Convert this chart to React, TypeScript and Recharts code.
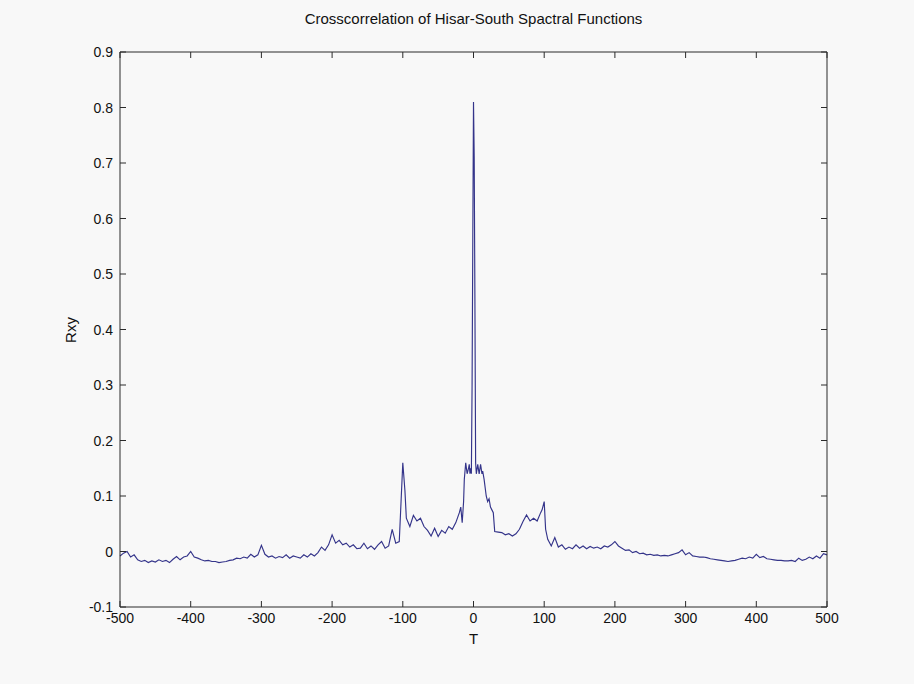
import React from "react";
import { LineChart, Line, XAxis, YAxis } from "recharts";

const lags = [
  -500, -495, -490, -485, -480, -475, -470, -465, -460, -455,
  -450, -445, -440, -435, -430, -425, -420, -415, -410, -405,
  -400, -395, -390, -385, -380, -375, -370, -365, -360, -355,
  -350, -345, -340, -335, -330, -325, -320, -315, -310, -305,
  -300, -295, -290, -285, -280, -275, -270, -265, -260, -255,
  -250, -245, -240, -235, -230, -225, -220, -215, -210, -205,
  -200, -195, -190, -185, -180, -175, -170, -165, -160, -155,
  -150, -145, -140, -135, -130, -125, -120, -115, -110, -105,
  -100, -97, -95, -90, -85, -80, -75, -70, -65, -60,
  -55, -50, -45, -40, -35, -30, -25, -20, -18, -16,
  -14, -13, -11, -9, -7, -6, -5, -4, -3, -2,
  -1, 0, 1, 2, 3, 4, 6, 8, 10, 12,
  13, 15, 18, 20, 22, 24, 26, 28, 30, 35,
  40, 45, 50, 55, 60, 65, 70, 75, 80, 85,
  90, 95, 97, 100, 102, 105,
  110, 115, 120, 125, 130, 135, 140, 145, 150, 155,
  160, 165, 170, 175, 180, 185, 190, 195, 200, 205,
  210, 215, 220, 225, 230, 235, 240, 245, 250, 255,
  260, 265, 270, 275, 280, 285, 290, 295, 300, 305,
  310, 315, 320, 325, 330, 335, 340, 345, 350, 355,
  360, 365, 370, 375, 380, 385, 390, 395, 400, 405,
  410, 415, 420, 425, 430, 435, 440, 445, 450, 455,
  460, 465, 470, 475, 480, 485, 490, 495, 500,
];

const rxy = [
  -0.008, -0.003, 0.0, -0.01, -0.006, -0.015, -0.018, -0.016, -0.02, -0.017,
  -0.019, -0.015, -0.018, -0.016, -0.02, -0.014, -0.009, -0.015, -0.01, -0.008,
  0.0, -0.01, -0.012, -0.015, -0.017, -0.016, -0.018, -0.018, -0.02, -0.019,
  -0.018, -0.016, -0.015, -0.012, -0.013, -0.01, -0.012, -0.005, -0.01, -0.006,
  0.011, -0.005, -0.01, -0.008, -0.012, -0.009, -0.011, -0.006, -0.012, -0.008,
  -0.01, -0.012, -0.006, -0.01, -0.004, -0.008, -0.002, 0.008, 0.002, 0.012,
  0.03, 0.015, 0.02, 0.012, 0.015, 0.008, 0.012, 0.005, 0.006, 0.015,
  0.005, 0.01, 0.004, 0.012, 0.018, 0.006, 0.01, 0.04, 0.015, 0.018,
  0.16, 0.11, 0.06, 0.045, 0.065, 0.055, 0.06, 0.045, 0.038, 0.028,
  0.042, 0.027, 0.038, 0.033, 0.045, 0.04, 0.052, 0.07, 0.08, 0.052,
  0.09, 0.13, 0.16, 0.14, 0.15, 0.157, 0.14, 0.15, 0.14, 0.3,
  0.56, 0.81, 0.71, 0.45, 0.16, 0.14, 0.157, 0.14, 0.157, 0.14,
  0.145, 0.13, 0.1, 0.09, 0.095, 0.08, 0.075, 0.07, 0.036, 0.035,
  0.034, 0.03, 0.032, 0.028, 0.032, 0.04, 0.054, 0.066, 0.055, 0.06,
  0.055, 0.07, 0.075, 0.09, 0.04, 0.022,
  0.01, 0.025, 0.008, 0.012, 0.004, 0.008, 0.005, 0.012, 0.006, 0.01,
  0.005, 0.009, 0.006, 0.008, 0.005, 0.01, 0.008, 0.012, 0.018, 0.01,
  0.006, 0.002, 0.003, -0.002, 0.0, -0.004, -0.003, -0.006, -0.005, -0.007,
  -0.006, -0.008, -0.007, -0.008, -0.006, -0.004, -0.002, 0.003, -0.006, -0.002,
  -0.008, -0.009, -0.01, -0.01, -0.011, -0.013, -0.014, -0.015, -0.016, -0.017,
  -0.018, -0.017, -0.016, -0.014, -0.012, -0.013, -0.01, -0.012, -0.005, -0.011,
  -0.009, -0.013, -0.014, -0.015, -0.016, -0.016, -0.017, -0.017, -0.016, -0.018,
  -0.012, -0.016, -0.014, -0.01, -0.013, -0.008, -0.012, -0.004, -0.006,
];

const xTicks = [-500, -400, -300, -200, -100, 0, 100, 200, 300, 400, 500];
const yTicks = [-0.1, 0, 0.1, 0.2, 0.3, 0.4, 0.5, 0.6, 0.7, 0.8, 0.9];

const title = "Crosscorrelation of Hisar-South Spactral Functions";
const xLabel = "T";
const yLabel = "Rxy";

const data = lags.map((t, i) => ({ t, r: rxy[i] }));

const FONT = "'Liberation Sans', Arial, Helvetica, sans-serif";
const AXIS = "#2a2a2a";
const TICK_LEN = 6;

const BottomTick = (p: any) => {
  const { x, y, payload } = p;
  return (
    <g>
      <line x1={x} x2={x} y1={y} y2={y - TICK_LEN} stroke={AXIS} />
      <text x={x} y={y + 16} textAnchor="middle" fontSize={14} fontFamily={FONT} fill="#111">
        {payload.value}
      </text>
    </g>
  );
};
const TopTick = (p: any) => {
  const { x, y } = p;
  return <line x1={x} x2={x} y1={y} y2={y + TICK_LEN} stroke={AXIS} />;
};
const LeftTick = (p: any) => {
  const { x, y, payload } = p;
  return (
    <g>
      <line x1={x} x2={x + TICK_LEN} y1={y} y2={y} stroke={AXIS} />
      <text x={x - 7} y={y + 5} textAnchor="end" fontSize={14} fontFamily={FONT} fill="#111">
        {String(payload.value)}
      </text>
    </g>
  );
};
const RightTick = (p: any) => {
  const { x, y } = p;
  return <line x1={x} x2={x - TICK_LEN} y1={y} y2={y} stroke={AXIS} />;
};

export default function App() {
  return (
    <div style={{ position: "fixed", left: 0, top: 0, width: 914, height: 684, background: "#f8f8f8" }}>
      <div style={{ position: "absolute", left: 0, top: 0 }}>
        <LineChart width={914} height={684} data={data} margin={{ top: 42, right: 77, bottom: 37, left: 60 }}>
          <XAxis
            xAxisId="b"
            dataKey="t"
            type="number"
            domain={[-500, 500]}
            ticks={xTicks}
            orientation="bottom"
            height={40}
            tickSize={0}
            tickMargin={0}
            tickLine={false}
            tick={<BottomTick />}
            stroke={AXIS}
            interval={0}
          />
          <XAxis
            xAxisId="t"
            dataKey="t"
            type="number"
            domain={[-500, 500]}
            ticks={xTicks}
            orientation="top"
            height={10}
            tickSize={0}
            tickMargin={0}
            tickLine={false}
            tick={<TopTick />}
            stroke={AXIS}
            interval={0}
          />
          <YAxis
            yAxisId="l"
            type="number"
            domain={[-0.1, 0.9]}
            ticks={yTicks}
            orientation="left"
            width={60}
            tickSize={0}
            tickMargin={0}
            tickLine={false}
            tick={<LeftTick />}
            stroke={AXIS}
            interval={0}
          />
          <YAxis
            yAxisId="r"
            type="number"
            domain={[-0.1, 0.9]}
            ticks={yTicks}
            orientation="right"
            width={10}
            tickSize={0}
            tickMargin={0}
            tickLine={false}
            tick={<RightTick />}
            stroke={AXIS}
            interval={0}
          />
          <Line
            xAxisId="b"
            yAxisId="l"
            type="linear"
            dataKey="r"
            stroke="#34348a"
            strokeWidth={1.15}
            dot={false}
            isAnimationActive={false}
          />
          <Line
            xAxisId="t"
            yAxisId="r"
            type="linear"
            dataKey="r"
            stroke="none"
            dot={false}
            isAnimationActive={false}
          />
        </LineChart>
      </div>
      <div style={{ position: "absolute", left: 120, width: 707, top: 10, textAlign: "center", fontFamily: FONT, fontSize: 15, color: "#111" }}>
        {title}
      </div>
      <div style={{ position: "absolute", left: 120, width: 707, top: 630, textAlign: "center", fontFamily: FONT, fontSize: 15, color: "#111" }}>
        {xLabel}
      </div>
      <div
        style={{
          position: "absolute",
          left: 70,
          top: 330,
          transform: "translate(-50%, -50%) rotate(-90deg)",
          fontFamily: FONT,
          fontSize: 15,
          color: "#111",
          whiteSpace: "nowrap",
        }}
      >
        {yLabel}
      </div>
    </div>
  );
}
